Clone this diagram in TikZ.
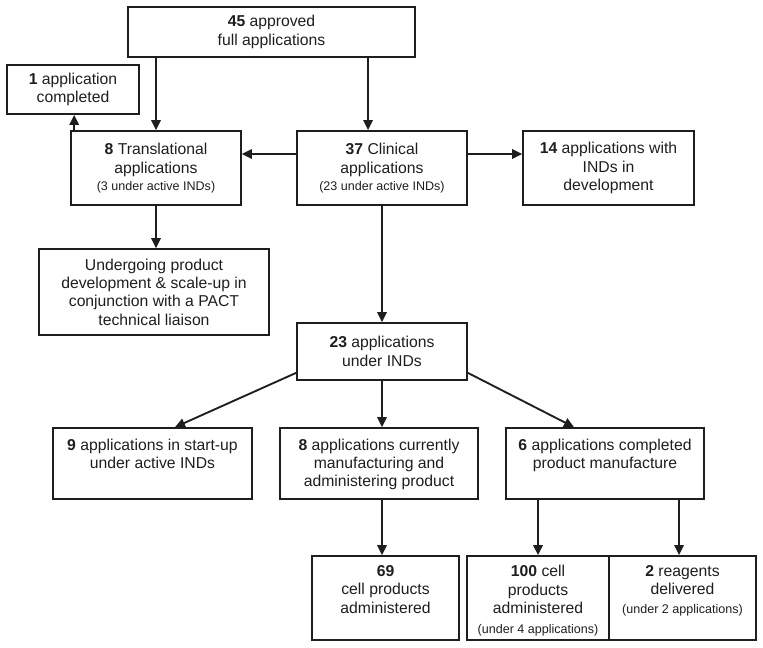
\documentclass[tikz,border=0pt]{standalone}
\usepackage{fontspec}
\setmainfont{Liberation Sans}
\usetikzlibrary{arrows.meta}
\definecolor{lc}{HTML}{1E1E1E}
\newcommand\smalltxt[1]{{\fontsize{9.4}{11}\selectfont #1}}
\begin{document}
\begin{tikzpicture}[x=0.75pt,y=-0.75pt,
  box/.style={draw=lc, line width=1.3pt, inner sep=0pt, align=center,
    font=\fontsize{11.8}{13.7}\selectfont, text=lc},
  txt/.style={inner sep=0pt, align=center, font=\fontsize{11.8}{13.7}\selectfont, text=lc},
  arr/.style={draw=lc, line width=1.4pt, -{Triangle[length=7.5pt,width=7pt]}}]
\useasboundingbox (0,0) rectangle (763,648);
% boxes
\node[box, minimum width=215.25pt, minimum height=37.5pt] (top) at (271.5,32)
  {\textbf{45} approved\\full applications};
\node[box, minimum width=99pt, minimum height=36.75pt] (one) at (73,89.5)
  {\textbf{1} application\\completed};
\node[box, minimum width=127.5pt, minimum height=55.5pt] (trans) at (156,168)
  {\textbf{8} Translational\\applications\\[-1pt]\smalltxt{(3 under active INDs)}};
\node[box, minimum width=127.5pt, minimum height=55.5pt] (clin) at (382,168)
  {\textbf{37} Clinical\\applications\\[-1pt]\smalltxt{(23 under active INDs)}};
\node[box, minimum width=128.25pt, minimum height=55.5pt] (fourteen) at (608.5,168)
  {\textbf{14} applications with\\INDs in\\development};
\node[box, minimum width=172.5pt, minimum height=64.5pt] (undergo) at (154,292)
  {Undergoing product\\development \& scale-up in\\conjunction with a PACT\\technical liaison};
\node[box, minimum width=127.5pt, minimum height=42.75pt] (inds) at (382,351.5)
  {\textbf{23} applications\\under INDs};
\node[box, minimum width=149.25pt, minimum height=53.25pt] (nine) at (152.5,463.5) {};
\node[box, minimum width=148.5pt, minimum height=53.25pt] (eight) at (379,463.5) {};
\node[box, minimum width=148.5pt, minimum height=53.25pt] (six) at (605,463.5) {};
\node[box, minimum width=110.25pt, minimum height=63pt] (sixtynine) at (385.5,598) {};
\node[box, minimum width=106.5pt, minimum height=63pt] (hundred) at (538,598) {};
\node[box, minimum width=110.25pt, minimum height=63pt] (two) at (682.5,598) {};
% top-anchored texts
\node[txt, anchor=north] (nineT) at ([yshift=-8.4pt]nine.north)
  {\textbf{9} applications in start-up\\under active INDs};
\node[txt, anchor=north] (eightT) at ([yshift=-8.4pt]eight.north)
  {\textbf{8} applications currently\\manufacturing and\\administering product};
\node[txt, anchor=north] (sixT) at ([yshift=-8.4pt]six.north)
  {\textbf{6} applications completed\\product manufacture};
\node[txt, anchor=north] (sixtynineT) at ([yshift=-7.6pt]sixtynine.north)
  {\textbf{69}\\cell products\\administered};
\node[txt, anchor=north] (hundredT) at ([yshift=-7.6pt]hundred.north)
  {\textbf{100} cell\\products\\administered\\[1pt]\smalltxt{(under 4 applications)}};
\node[txt, anchor=north] (twoT) at ([yshift=-7.6pt]two.north)
  {\textbf{2} reagents\\delivered\\\smalltxt{(under 2 applications)}};
% helper coordinates
\coordinate (cTop) at ([xshift=-10.5pt]clin.north);
\coordinate (tOne) at ([xshift=3pt]trans.north west);
\coordinate (cMid) at ([yshift=10.5pt]clin.west);
\coordinate (nineIn) at ([xshift=16.9pt]nine.north);
\coordinate (sixIn) at ([xshift=-23.25pt]six.north);
\coordinate (eightOut) at ([xshift=2.25pt]eight.south);
\coordinate (twoIn) at ([xshift=-2.6pt]two.north);
% connectors
\draw[arr] (top.south -| trans.north) -- (trans.north);
\draw[arr] (top.south -| cTop) -- (cTop);
\draw[arr] (tOne) -- (tOne |- one.south);
\draw[arr] (cMid) -- (cMid -| trans.east);
\draw[arr] (cMid -| clin.east) -- (cMid -| fourteen.west);
\draw[arr] (trans.south) -- (trans.south |- undergo.north);
\draw[arr] (clin.south) -- (inds.north);
\draw[arr] ([yshift=6pt]inds.south west) -- (nineIn);
\draw[arr] (inds.south) -- (inds.south |- eight.north);
\draw[arr] ([yshift=6pt]inds.south east) -- (sixIn);
\draw[arr] (eightOut) -- (eightOut |- sixtynine.north);
\draw[arr] (six.south -| hundred.north) -- (hundred.north);
\draw[arr] (six.south -| twoIn) -- (twoIn);
\end{tikzpicture}
\end{document}
